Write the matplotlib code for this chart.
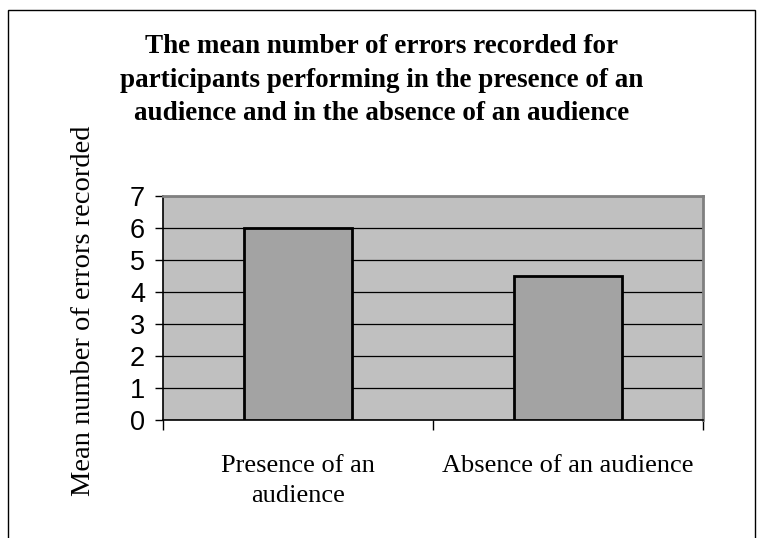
import matplotlib
matplotlib.use('Agg')
import matplotlib.pyplot as plt
from matplotlib.patches import Rectangle

# data
categories = ['Presence of an\naudience', 'Absence of an audience']
mean_errors = [6.0, 4.5]
yticks = [0, 1, 2, 3, 4, 5, 6, 7]

W, H = 757, 538
fig = plt.figure(figsize=(W / 100, H / 100), dpi=100)
fig.patch.set_facecolor('white')

# outer frame (cut off at bottom)
fig.add_artist(Rectangle((8 / W, -0.1), (755 - 8) / W, 1.1 - 10 / H,
                         transform=fig.transFigure, fill=False,
                         edgecolor='black', lw=1.0))

# plot area in pixels
x0, x1, ytop, ybot = 163, 703, 196, 420
ax = fig.add_axes([x0 / W, (H - ybot) / H, (x1 - x0) / W, (ybot - ytop) / H])
ax.set_facecolor('#c0c0c0')

ax.bar([0, 1], mean_errors, width=0.4, color='#a3a3a3',
       edgecolor='black', linewidth=2.0, zorder=3)

ax.set_xlim(-0.5, 1.5)
ax.set_ylim(0, 7)
ax.set_yticks(yticks)
ax.yaxis.grid(True, color='black', lw=0.9, zorder=1)
ax.set_axisbelow(True)

ax.set_yticklabels([str(t) for t in yticks], family='Liberation Sans', fontsize=19.5)
ax.tick_params(axis='y', direction='out', length=6, width=1, pad=7)

ax.set_xticks([0, 1])
ax.set_xticklabels(categories, family='Liberation Serif', fontsize=19,
                   linespacing=1.5, va='top')
ax.set_xticks([-0.5, 0.5, 1.5], minor=True)
ax.tick_params(axis='x', which='major', length=0, pad=25)
ax.tick_params(axis='x', which='minor', direction='out', length=7, width=1)

for s in ['left', 'bottom']:
    ax.spines[s].set_color('black')
    ax.spines[s].set_linewidth(1.2)
for s in ['top', 'right']:
    ax.spines[s].set_color('#808080')
    ax.spines[s].set_linewidth(2.0)

fig.text(84 / W, 1 - 311 / H, 'Mean number of errors recorded',
         rotation=90, ha='center', va='center', family='Liberation Serif',
         fontsize=20.5)

fig.text(382 / W, 1 - 34 / H,
         'The mean number of errors recorded for\n'
         'participants performing in the presence of an\n'
         'audience and in the absence of an audience',
         ha='center', va='top', family='Liberation Serif',
         fontweight='bold', fontsize=19.5, linespacing=1.45)

fig.savefig('out.png', dpi=100)
